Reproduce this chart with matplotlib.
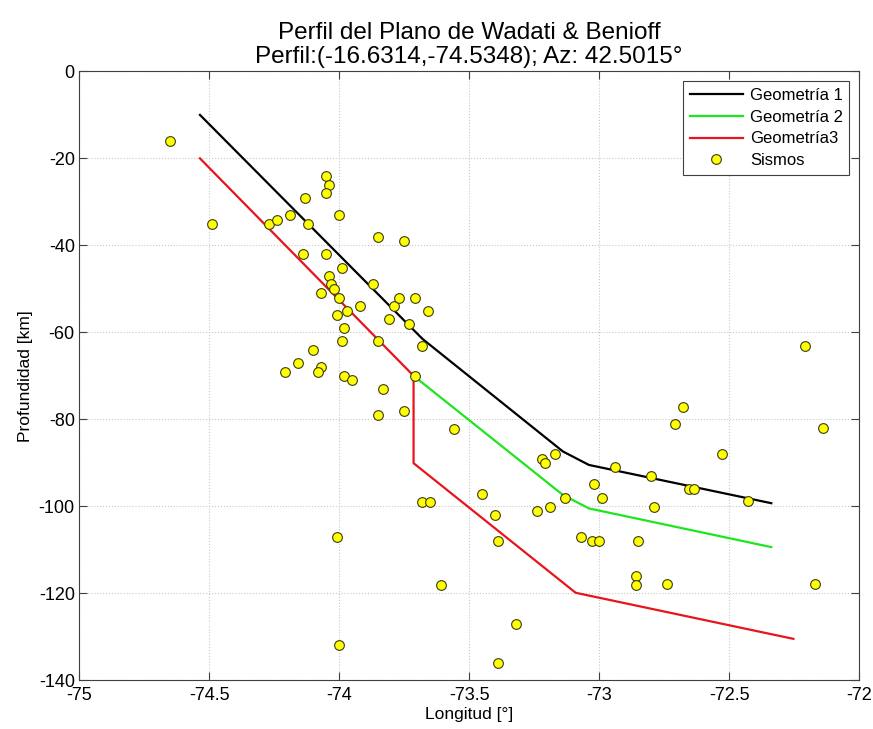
import matplotlib
matplotlib.use("Agg")
import matplotlib.pyplot as plt

plt.rcParams['font.family'] = ['Liberation Sans', 'DejaVu Sans']
plt.rcParams['axes.unicode_minus'] = False

# Geometrias del plano (longitud, profundidad)
geom1_lon = [-74.535, -73.68, -73.14, -73.04, -72.339]
geom1_dep = [-10.0, -61.5, -87.4, -90.5, -99.3]

geom2_lon = [-73.714, -73.14, -73.04, -72.339]
geom2_dep = [-70.0, -97.4, -100.5, -109.4]

geom3_lon = [-74.535, -73.714, -73.714, -73.091, -72.254]
geom3_dep = [-20.0, -70.0, -90.1, -119.9, -130.5]

# Sismos
sis_lon = [-74.65, -74.49, -74.27, -74.24, -74.19, -74.13, -74.12, -74.05, -74.04, -74.05,
           -74.00, -73.85, -73.75, -74.14, -74.05, -73.99, -74.04, -74.03, -74.02, -74.07,
           -74.00, -73.87, -74.01, -73.97, -73.92, -73.79, -73.77, -73.71, -73.66, -73.81,
           -73.73, -73.98, -73.99, -73.85, -73.68, -74.10, -74.16, -74.21, -74.07, -74.08,
           -73.98, -73.95, -73.71, -73.83, -73.85, -73.75, -73.56, -73.22, -73.21, -73.17,
           -72.94, -72.80, -73.02, -72.99, -73.13, -73.45, -73.68, -73.65, -73.40, -73.24,
           -73.19, -74.01, -73.39, -73.07, -73.03, -73.00, -72.85, -72.86, -72.86, -73.61,
           -73.32, -74.00, -73.39, -72.21, -72.68, -72.71, -72.14, -72.53, -72.655, -72.636,
           -72.43, -72.79, -72.74, -72.17]
sis_dep = [-16.0, -35.1, -35.1, -34.1, -33.1, -29.0, -35.1, -24.1, -26.1, -28.0,
           -33.1, -38.1, -39.1, -42.1, -42.1, -45.1, -47.1, -49.0, -50.1, -51.0,
           -52.0, -49.0, -56.1, -55.0, -54.0, -54.0, -52.0, -52.0, -55.0, -57.0,
           -58.1, -59.1, -62.1, -62.1, -63.1, -64.1, -67.1, -69.1, -68.0, -69.1,
           -70.0, -71.0, -70.0, -73.1, -79.0, -78.0, -82.2, -89.1, -90.0, -88.0,
           -91.0, -93.0, -95.0, -98.0, -98.0, -97.1, -99.0, -99.0, -102.0, -101.0,
           -100.1, -107.0, -108.1, -107.0, -108.1, -108.1, -108.1, -116.0, -118.0, -118.0,
           -127.1, -132.0, -136.1, -63.1, -77.1, -81.0, -82.1, -88.0, -96.0, -96.0,
           -98.9, -100.1, -117.9, -117.9]

xticks = [-75, -74.5, -74, -73.5, -73, -72.5, -72]
xtick_labels = ["-75", "-74.5", "-74", "-73.5", "-73", "-72.5", "-72"]
yticks = [0, -20, -40, -60, -80, -100, -120, -140]

fig = plt.figure(figsize=(8.73, 7.29), dpi=100)
ax = fig.add_axes([0.0905, 0.067, 0.894, 0.835])

ax.plot(geom1_lon, geom1_dep, color="black", lw=1.6, label="Geometría 1")
ax.plot(geom2_lon, geom2_dep, color="#1ee61e", lw=1.6, label="Geometría 2")
ax.plot(geom3_lon, geom3_dep, color="#e8141c", lw=1.6, label="Geometría3")
ax.plot(sis_lon, sis_dep, "o", ms=7, mfc="#ffff00", mec="#3a3a1a", mew=0.8,
        label="Sismos")

ax.set_xlim(-75, -72)
ax.set_ylim(-140, 0)
ax.set_xticks(xticks)
ax.set_xticklabels(xtick_labels)
ax.set_yticks(yticks)

ax.grid(True, linestyle=":", color="#c8c8c8", lw=0.8)
ax.tick_params(direction="in", top=True, right=True, length=6, labelsize=13,
               color="#404040", pad=3)
ax.tick_params(axis="x", pad=5)
for s in ax.spines.values():
    s.set_color("#404040")

ax.set_xlabel("Longitud [°]", fontsize=12.5, labelpad=2)
ax.set_ylabel("Profundidad [km]", fontsize=12.5, labelpad=4)
ax.set_title("Perfil del Plano de Wadati & Benioff\nPerfil:(-16.6314,-74.5348); Az: 42.5015°",
             fontsize=17.5, pad=6, linespacing=1.15)

leg = ax.legend(loc="upper right", fontsize=12, fancybox=False, framealpha=1,
                edgecolor="#404040", handlelength=3.2, handletextpad=0.4,
                labelspacing=0.4, borderaxespad=0.6, borderpad=0.4)
leg.get_frame().set_linewidth(0.8)

fig.savefig("out.png", dpi=100)
